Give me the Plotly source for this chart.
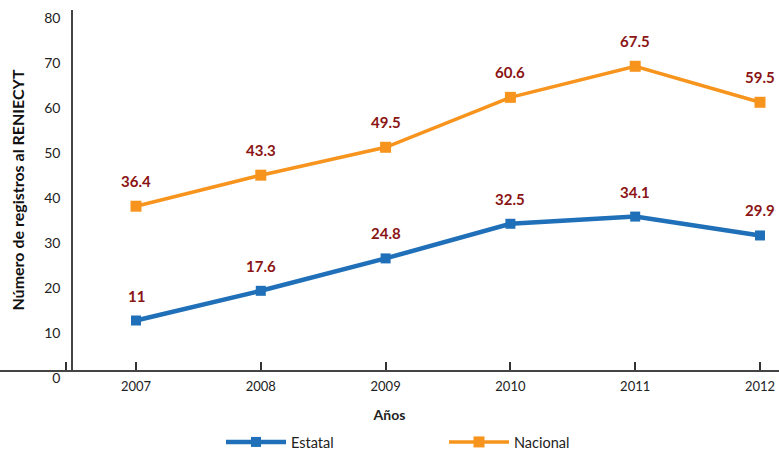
import plotly.graph_objects as go

years = [2007, 2008, 2009, 2010, 2011, 2012]
estatal = [11, 17.6, 24.8, 32.5, 34.1, 29.9]
nacional = [36.4, 43.3, 49.5, 60.6, 67.5, 59.5]
y_ticks = [0, 10, 20, 30, 40, 50, 60, 70, 80]

blue = "#1F70B8"
orange = "#F7941D"
label_color = "#8B1414"
font_family = "Lato, 'Open Sans', sans-serif"

fig = go.Figure()
fig.add_trace(go.Scatter(
    x=years, y=estatal, name="Estatal", mode="lines+markers",
    line=dict(color=blue, width=4.5),
    marker=dict(symbol="square", size=10, color=blue),
))
fig.add_trace(go.Scatter(
    x=years, y=nacional, name="Nacional", mode="lines+markers",
    line=dict(color=orange, width=3.5),
    marker=dict(symbol="square", size=11, color=orange),
))

annotations = []
for series in (estatal, nacional):
    for xv, yv in zip(years, series):
        annotations.append(dict(
            x=xv, y=yv, text=f"{yv:g}", showarrow=False, yshift=25,
            font=dict(family=font_family, size=15, color=label_color, weight="bold"),
        ))

x0 = 2007 - 136 / 124.8
x1 = 2007 + 643 / 124.8
zero_tick = 2007 - 70 / 124.8

fig.update_layout(
    width=779, height=453,
    margin=dict(l=0, r=0, t=10, b=83),
    paper_bgcolor="white", plot_bgcolor="white",
    font=dict(family=font_family, color="#222"),
    annotations=annotations,
    showlegend=True,
    legend=dict(
        orientation="h", xref="container", yref="container",
        x=221 / 779, xanchor="left", y=1 - 442 / 453, yanchor="middle",
        font=dict(size=14.5, color="#222"), entrywidth=148,
        itemwidth=60,
    ),
    xaxis=dict(
        range=[x0, x1],
        tickvals=[zero_tick] + years,
        ticktext=[""] + [str(y) for y in years],
        ticks="inside", ticklen=8, tickwidth=1.5, tickcolor="#333",
        showline=True, linecolor="#444", linewidth=1.5,
        showgrid=False, zeroline=False,
        ticklabelstandoff=4,
        tickfont=dict(size=13, color="#222"),
        title=dict(text="<b>Años</b>", font=dict(size=14, color="#222"), standoff=17),
    ),
    yaxis=dict(
        range=[0, 80.01], tickvals=y_ticks,
        anchor="free", position=72 / 779,
        showline=True, linecolor="#444", linewidth=1.5,
        ticks="", showgrid=False, zeroline=False,
        ticklabelshift=8, ticklabelstandoff=8, ticklabeloverflow="allow",
        tickfont=dict(size=14, color="#222"),
        title=dict(text="<b>Número de registros al RENIECYT</b>",
                   font=dict(size=16, color="#111"), standoff=15),
        automargin=False,
    ),
)

fig.write_html("out.html", config={"displayModeBar": False},
               post_script="document.body.style.margin='0';")
